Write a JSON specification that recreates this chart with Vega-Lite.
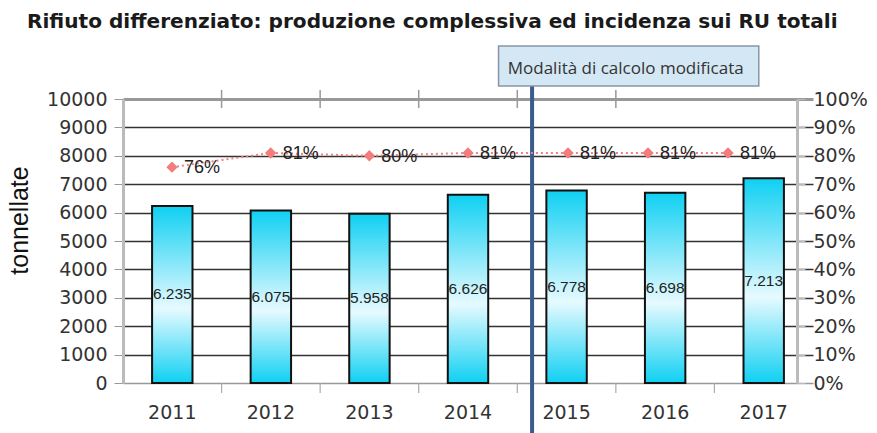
{
  "$schema": "https://vega.github.io/schema/vega-lite/v6.json",
  "width": 674,
  "height": 284,
  "autosize": {"type": "none"},
  "padding": {"left": 123, "top": 99, "right": 80, "bottom": 50},
  "background": "white",
  "title": {
    "text": "Rifiuto differenziato: produzione complessiva ed incidenza sui RU totali",
    "anchor": "start",
    "frame": "group",
    "dx": -96,
    "offset": -3,
    "baseline": "alphabetic",
    "font": "DejaVu Sans",
    "fontSize": 20.1,
    "fontWeight": "bold",
    "color": "#1a1a1a"
  },
  "datasets": {
    "main": [
      {"year": 2011, "ton": 6235, "pct": 0.76},
      {"year": 2012, "ton": 6075, "pct": 0.81},
      {"year": 2013, "ton": 5958, "pct": 0.80},
      {"year": 2014, "ton": 6626, "pct": 0.81},
      {"year": 2015, "ton": 6778, "pct": 0.81},
      {"year": 2016, "ton": 6698, "pct": 0.81},
      {"year": 2017, "ton": 7213, "pct": 0.81}
    ]
  },
  "layer": [
    {
      "data": {"name": "main"},
      "mark": {
        "type": "bar",
        "width": {"band": 0.41},
        "stroke": "#111111",
        "strokeWidth": 2,
        "fill": {
          "gradient": "linear",
          "x1": 0, "y1": 0, "x2": 0, "y2": 1,
          "stops": [
            {"offset": 0, "color": "#0fd0f2"},
            {"offset": 0.58, "color": "#e6faff"},
            {"offset": 1, "color": "#0fd0f2"}
          ]
        }
      },
      "encoding": {
        "x": {
          "field": "year",
          "type": "nominal",
          "scale": {
            "type": "band",
            "domain": [2011, 2012, 2013, 2014, 2015, 2016, 2017],
            "range": [0, 690],
            "paddingInner": 0,
            "paddingOuter": 0
          },
          "axis": {
            "title": null,
            "labelAngle": 0,
            "ticks": false,
            "domain": false,
            "labelPadding": 20,
            "labelFont": "DejaVu Sans",
            "labelFontSize": 19,
            "labelColor": "#333333"
          }
        },
        "y": {
          "field": "ton",
          "type": "quantitative",
          "scale": {"domain": [0, 10000], "nice": false},
          "axis": {
            "title": "tonnellate",
            "titleFont": "Liberation Sans",
            "titleFontSize": 25,
            "titleFontWeight": "normal",
            "titleColor": "#111111",
            "titleX": -104,
            "titleY": 121,
            "titleBaseline": "middle",
            "titleAngle": -90,
            "values": [0, 1000, 2000, 3000, 4000, 5000, 6000, 7000, 8000, 9000, 10000],
            "labelOverlap": false,
            "format": "d",
            "labelFont": "DejaVu Sans",
            "labelFontSize": 19,
            "labelColor": "#333333",
            "tickSize": 9,
            "tickColor": "#999999",
            "labelPadding": 7,
            "domainColor": "#bbbbbb",
            "domainWidth": 3,
            "grid": true,
            "gridColor": {"condition": {"test": "datum.value === 0 || datum.value === 10000", "value": "#999999"}, "value": "#333333"},
            "gridWidth": {"condition": {"test": "datum.value === 10000", "value": 3}, "value": 1.5}
          }
        }
      }
    },
    {
      "data": {"name": "main"},
      "layer": [
        {
          "transform": [{"calculate": "datum.ton / 2", "as": "mid"}],
          "mark": {"type": "text", "font": "Liberation Sans", "fontSize": 15.5, "color": "#222222", "baseline": "middle", "align": "center"},
          "encoding": {
            "x": {
              "field": "year",
              "type": "nominal",
              "scale": {
                "type": "band",
                "domain": [2011, 2012, 2013, 2014, 2015, 2016, 2017],
                "range": [0, 690],
                "paddingInner": 0,
                "paddingOuter": 0
              },
              "axis": null
            },
            "y": {"field": "mid", "type": "quantitative", "scale": {"domain": [0, 10000], "nice": false}, "axis": null},
            "text": {"field": "ton", "type": "quantitative", "format": ","}
          }
        },
        {
          "transform": [{"filter": "datum.year >= 2012 && datum.year <= 2016"}],
          "mark": {"type": "rule", "color": "#999999", "strokeWidth": 1.5, "clip": false},
          "encoding": {
            "x": {"field": "year", "type": "nominal", "bandPosition": 0, "axis": null},
            "y": {"datum": 9680, "axis": null},
            "y2": {"datum": 10320}
          }
        },
        {
          "transform": [{"filter": "datum.year >= 2012"}],
          "mark": {"type": "rule", "color": "#aaaaaa", "strokeWidth": 1.2, "clip": false},
          "encoding": {
            "x": {"field": "year", "type": "nominal", "bandPosition": 0, "axis": null},
            "y": {"datum": 0, "axis": null},
            "y2": {"datum": -350}
          }
        },
        {
          "data": {"values": [{}]},
          "mark": {"type": "rule", "color": "#3b5b8c", "strokeWidth": 4, "clip": false},
          "encoding": {
            "x": {"datum": 2015, "type": "nominal", "bandPosition": 0.15, "axis": null},
            "y": {"datum": 10458, "axis": null},
            "y2": {"datum": -1800}
          }
        },
        {
          "data": {"values": [{}]},
          "mark": {"type": "rect", "fill": "#d4e7f4", "stroke": "#8796a5", "strokeWidth": 1.5, "clip": false},
          "encoding": {
            "x": {"datum": 2014, "type": "nominal", "bandPosition": 0.81, "axis": null},
            "x2": {"datum": 2017, "bandPosition": 0.45},
            "y": {"datum": 11866, "axis": null},
            "y2": {"datum": 10458}
          }
        },
        {
          "data": {"values": [{}]},
          "mark": {"type": "text", "text": "Modalità di calcolo modificata", "font": "Open Sans", "fontSize": 17, "color": "#333333", "baseline": "middle", "align": "center", "clip": false},
          "encoding": {
            "x": {"datum": 2016, "type": "nominal", "bandPosition": 0.1, "axis": null},
            "y": {"datum": 11056, "axis": null}
          }
        }
      ]
    },
    {
      "data": {"name": "main"},
      "encoding": {
        "x": {
          "field": "year",
          "type": "quantitative",
          "scale": {"domain": [2011, 2014, 2015, 2017], "range": [49, 345, 445, 605], "nice": false, "zero": false},
          "axis": null
        },
        "y": {
          "field": "pct",
          "type": "quantitative",
          "scale": {"domain": [0, 1], "nice": false},
          "axis": {
            "orient": "right",
            "title": null,
            "format": ".0%",
            "values": [0, 0.1, 0.2, 0.3, 0.4, 0.5, 0.6, 0.7, 0.8, 0.9, 1],
            "labelOverlap": false,
            "labelFont": "DejaVu Sans",
            "labelFontSize": 19,
            "labelColor": "#333333",
            "tickSize": 8,
            "tickColor": "#bbbbbb",
            "labelPadding": 8,
            "domainColor": "#bbbbbb",
            "domainWidth": 3,
            "grid": false
          }
        }
      },
      "layer": [
        {"mark": {"type": "line", "color": "#f08080", "strokeWidth": 2, "strokeDash": [2, 3]}},
        {"mark": {"type": "point", "shape": "diamond", "filled": true, "color": "#f47c7c", "size": 130, "opacity": 1}},
        {
          "mark": {"type": "text", "align": "left", "baseline": "middle", "dx": 12, "dy": 1, "font": "Liberation Sans", "fontSize": 18, "color": "#222222"},
          "encoding": {"text": {"field": "pct", "type": "quantitative", "format": ".0%"}}
        }
      ]
    }
  ],
  "resolve": {"scale": {"x": "independent", "y": "independent"}},
  "config": {
    "locale": {"number": {"decimal": ",", "thousands": ".", "grouping": [3], "currency": ["€", ""]}},
    "view": {"stroke": null}
  }
}
